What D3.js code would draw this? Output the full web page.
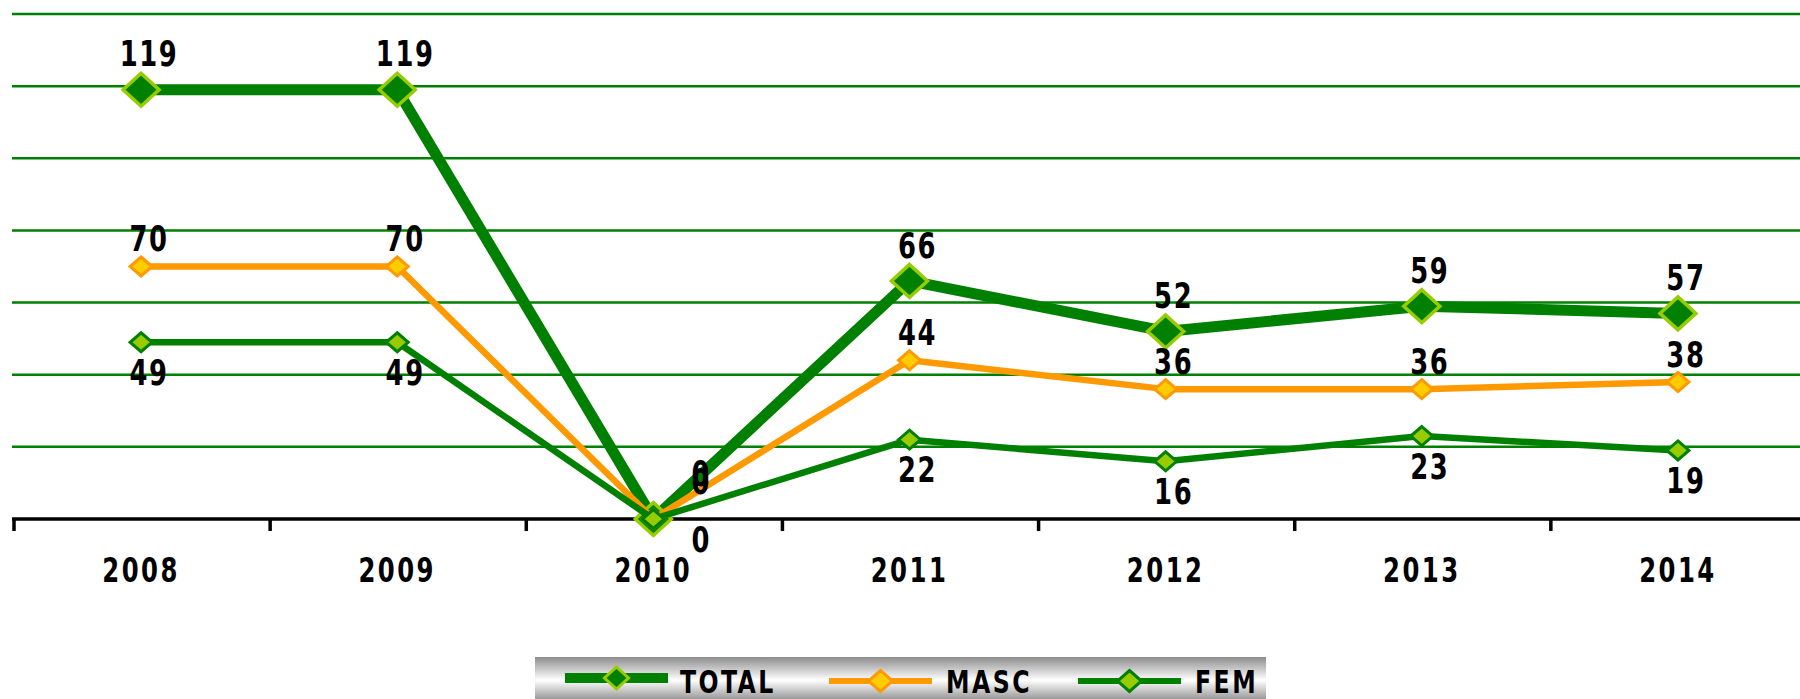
<!DOCTYPE html>
<html>
<head>
<meta charset="utf-8">
<script src="https://cdn.jsdelivr.net/npm/d3@7"></script>
<style>
  html, body { margin: 0; padding: 0; background: #fff; }
  #main { width: 1800px; height: 699px; }
  text { font-family: "DejaVu Sans Condensed", "DejaVu Sans", sans-serif; font-weight: bold; fill: #000; }
</style>
</head>
<body>
<div id="main"></div>
<script>
const years = ["2008", "2009", "2010", "2011", "2012", "2013", "2014"];
const total = [119, 119, 0, 66, 52, 59, 57];
const masc = [70, 70, 0, 44, 36, 36, 38];
const fem = [49, 49, 0, 22, 16, 23, 19];
const yTicks = [20, 40, 60, 80, 100, 120, 140];

const width = 1800;
const height = 699;

const svg = d3.select("#main").append("svg")
  .attr("width", width)
  .attr("height", height);

const x = d3.scaleBand().domain(years).range([13, 1806]);
const y = d3.scaleLinear().domain([0, 140]).range([519, 14]);

// narrow, tall lettering like the original condensed face
const narrow = (px, py) => `translate(${px}, ${py}) scale(0.82, 1)`;

// grid lines
svg.append("g")
  .selectAll("line")
  .data(yTicks)
  .enter()
  .append("line")
  .attr("x1", 12)
  .attr("x2", width)
  .attr("y1", d => y(d))
  .attr("y2", d => y(d))
  .attr("stroke", "#008000")
  .attr("stroke-width", 2.5);

// x axis
const xAxis = svg.append("g")
  .attr("transform", `translate(0, ${y(0)})`);

xAxis.append("line")
  .attr("x1", 12)
  .attr("x2", width)
  .attr("stroke", "#000")
  .attr("stroke-width", 3.5);

xAxis.selectAll("line.tick")
  .data(years)
  .enter()
  .append("line")
  .attr("class", "tick")
  .attr("x1", d => x(d) + 1)
  .attr("x2", d => x(d) + 1)
  .attr("y1", 0)
  .attr("y2", 12)
  .attr("stroke", "#000")
  .attr("stroke-width", 3.5);

xAxis.selectAll("text")
  .data(years)
  .enter()
  .append("text")
  .attr("transform", d => narrow(x(d) + x.bandwidth() / 2, 63))
  .attr("text-anchor", "middle")
  .style("font-size", "33px")
  .style("letter-spacing", "3px")
  .text(d => d);

const diamond = (w, h) => `M0,${-h}L${w},0L0,${h}L${-w},0Z`;

const series = [
  { name: "TOTAL", values: total, line: "#008000", lw: 11, fill: "#008000", stroke: "#99cc00", sw: 3.5, w: 18, h: 16.5, dy: -36 },
  { name: "MASC", values: masc, line: "#ff9900", lw: 6.5, fill: "#ffcc00", stroke: "#ff9900", sw: 3, w: 11, h: 9.5, dy: -28 },
  { name: "FEM", values: fem, line: "#008000", lw: 6.5, fill: "#99cc00", stroke: "#008000", sw: 3, w: 11, h: 9.5, dy: 30 }
];

const cx = i => x(years[i]) + x.bandwidth() / 2;

const line = d3.line()
  .x((d, i) => cx(i))
  .y(d => y(d));

series.forEach(s => {
  const g = svg.append("g");

  g.append("path")
    .datum(s.values)
    .attr("d", line)
    .attr("fill", "none")
    .attr("stroke", s.line)
    .attr("stroke-width", s.lw)
    .attr("stroke-linejoin", "round");

  g.selectAll("path.marker")
    .data(s.values)
    .enter()
    .append("path")
    .attr("class", "marker")
    .attr("d", diamond(s.w, s.h))
    .attr("transform", (d, i) => `translate(${cx(i)}, ${y(d)})`)
    .attr("fill", s.fill)
    .attr("stroke", s.stroke)
    .attr("stroke-width", s.sw);
});

// data labels (drawn on top)
series.forEach(s => {
  svg.append("g")
    .selectAll("text")
    .data(s.values)
    .enter()
    .append("text")
    .attr("transform", (d, i) => narrow(
      cx(i) + (d === 0 ? 48 : 8),
      y(d) + s.dy + (d === 0 ? -10 : 0)))
    .attr("dy", "0.36em")
    .attr("text-anchor", "middle")
    .style("font-size", "35px")
    .style("letter-spacing", "2px")
    .text(d => d);
});

// legend
const defs = svg.append("defs");
const grad = defs.append("linearGradient")
  .attr("id", "legendGrad")
  .attr("x1", 0).attr("y1", 0)
  .attr("x2", 0).attr("y2", 1);
grad.append("stop").attr("offset", "0%").attr("stop-color", "#8c8c8c");
grad.append("stop").attr("offset", "55%").attr("stop-color", "#ffffff");
grad.append("stop").attr("offset", "100%").attr("stop-color", "#9a9a9a");

const legend = svg.append("g").attr("transform", "translate(535, 657)");

legend.append("rect")
  .attr("width", 731)
  .attr("height", 42)
  .attr("fill", "url(#legendGrad)");

const legendX = [30, 294, 543];
const textX = [145, 411, 660];

series.forEach((s, i) => {
  const item = legend.append("g")
    .attr("transform", `translate(${legendX[i]}, ${i === 0 ? 21 : 24})`);

  item.append("line")
    .attr("x1", 0)
    .attr("x2", 103)
    .attr("stroke", s.line)
    .attr("stroke-width", i === 0 ? 10 : 6);

  item.append("path")
    .attr("d", i === 0 ? diamond(12, 11) : diamond(12, 10.5))
    .attr("transform", "translate(51.5, 0)")
    .attr("fill", s.fill)
    .attr("stroke", s.stroke)
    .attr("stroke-width", 3);

  legend.append("text")
    .attr("transform", narrow(textX[i], 36))
    .style("font-size", "32px")
    .style("letter-spacing", "3px")
    .text(s.name);
});
</script>
</body>
</html>
